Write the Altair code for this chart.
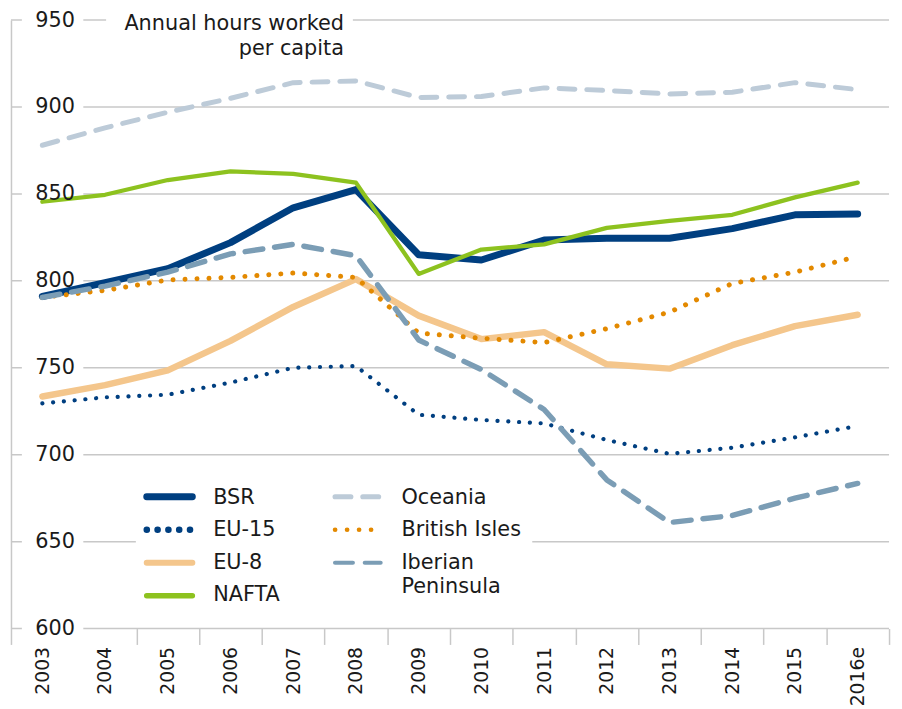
import altair as alt
import pandas as pd

# ---------------- data ----------------
years = ["2003", "2004", "2005", "2006", "2007", "2008", "2009", "2010",
         "2011", "2012", "2013", "2014", "2015", "2016e"]

series_names = ["BSR", "EU-15", "EU-8", "NAFTA", "Oceania", "British Isles", "Iberian Peninsula"]

bsr = [791, 799, 807, 822, 842, 852.5, 815, 812, 823.5, 824.5, 824.5, 830, 838, 838.5]
eu15 = [729.5, 733, 734.5, 741.5, 750, 751, 723, 720, 718, 708.5, 700.5, 704, 710, 716.5]
eu8 = [733.5, 740, 748.5, 765.5, 785, 801, 780, 766.5, 770.5, 752, 749.5, 763, 774, 780.5]
nafta = [845.5, 849.5, 858, 863, 861.5, 856.5, 804, 818, 821, 830.5, 834.5, 838, 848, 856.5]
oceania = [878, 888, 897, 905, 914, 915, 905.5, 906, 911, 909.5, 907.5, 908.5, 914, 910]
british = [790.5, 794.5, 800.5, 802, 804.5, 802, 770, 767, 764.5, 772.5, 782, 798.5, 805, 814]
iberian = [790.5, 797, 805, 815.5, 821, 814.5, 766, 749, 726, 685.5, 661, 665, 675, 683.5]

y_ticks = [600, 650, 700, 750, 800, 850, 900, 950]

legend_left = ["BSR", "EU-15", "EU-8", "NAFTA"]
legend_right = ["Oceania", "British Isles", "Iberian Peninsula"]

# ---------------- styles ----------------
values = {"BSR": bsr, "EU-15": eu15, "EU-8": eu8, "NAFTA": nafta,
          "Oceania": oceania, "British Isles": british, "Iberian Peninsula": iberian}
colors = {"BSR": "#003f80", "EU-15": "#003f80", "EU-8": "#f4c68c", "NAFTA": "#8dc21f",
          "Oceania": "#bdcbd8", "British Isles": "#e38900", "Iberian Peninsula": "#7b9db5"}
widths = {"BSR": 7, "EU-15": 4.2, "EU-8": 6.5, "NAFTA": 4.3,
          "Oceania": 5, "British Isles": 5, "Iberian Peninsula": 5.5}
dashes = {"BSR": [1, 0], "EU-15": [0.1, 10.8], "EU-8": [1, 0], "NAFTA": [1, 0],
          "Oceania": [16, 12], "British Isles": [0.1, 12], "Iberian Peninsula": [18, 12]}
draw_order = ["Oceania", "EU-8", "BSR", "NAFTA", "EU-15", "British Isles", "Iberian Peninsula"]

W, H = 886, 614
FONT = "DejaVu Sans"
TXT = "#1a1a1a"
GRID = "#c8c8c8"

long = pd.DataFrame([{"year": y, "series": s, "value": v}
                     for s in series_names for y, v in zip(years, values[s])])

yscale = alt.Scale(domain=[600, 950], nice=False, zero=False)
xscale = alt.Scale(domain=years, paddingInner=0, paddingOuter=0)

yaxis = alt.Axis(values=y_ticks, title=None, grid=False, ticks=False, domain=True,
                 domainColor=GRID, domainWidth=1.5, labelPadding=-64, labelAlign="right",
                 labelBaseline="middle", labelFont=FONT, labelFontSize=21, labelColor=TXT,
                 zindex=1)
xaxis = alt.Axis(title=None, grid=False, domain=False, tickBand="extent", tickSize=16,
                 tickColor=GRID, tickWidth=1.5, labelAngle=270, labelAlign="right",
                 labelBaseline="middle", labelPadding=2, labelFont=FONT, labelFontSize=19,
                 labelColor=TXT,
                 tickOpacity={"condition": {"test": "datum.value === '2003'", "value": 0}, "value": 1})

# gridlines
grid = alt.Chart(pd.DataFrame({"v": y_ticks})).mark_rule(color=GRID, strokeWidth=1.5).encode(
    y=alt.Y("v:Q", scale=yscale, axis=yaxis), x=alt.value(0), x2=alt.value(W))

blank = alt.Chart(alt.Data(values=[{}])).mark_rect(color="white")
label_mask = blank.encode(x=alt.value(11), x2=alt.value(73), y=alt.value(-4), y2=alt.value(H + 4))
title_mask = blank.encode(x=alt.value(96), x2=alt.value(345), y=alt.value(-4), y2=alt.value(4))
legend_mask = blank.encode(x=alt.value(126), x2=alt.value(526), y=alt.value(519), y2=alt.value(533))

lines = []
for s in draw_order:
    kw = dict(color=colors[s], strokeWidth=widths[s], strokeCap="round", strokeJoin="round")
    if dashes[s] != [1, 0]:
        kw["strokeDash"] = dashes[s]
    lines.append(
        alt.Chart(long).transform_filter(alt.datum.series == s).mark_line(**kw).encode(
            x=alt.X("year:N", sort=years, scale=xscale, axis=xaxis, bandPosition=0.5),
            y=alt.Y("value:Q", scale=yscale, axis=yaxis),
        )
    )

title_txt = alt.Chart(alt.Data(values=[{}])).mark_text(
    text="Annual hours worked|per capita", lineBreak="|", align="right", baseline="alphabetic",
    font=FONT, fontSize=21, color=TXT, lineHeight=25).encode(x=alt.value(336), y=alt.value(10))

leg_df = pd.DataFrame({
    "series": legend_left + legend_right,
    "col": [0] * len(legend_left) + [1] * len(legend_right),
    "row": list(range(len(legend_left))) + list(range(len(legend_right))),
})
leg_base = alt.Chart(leg_df).transform_calculate(
    sx="datum.col == 0 ? 137 : 327",
    sx2="datum.col == 0 ? 183 : 373",
    sy="481 + 33.3 * datum.row",
    tx="datum.col == 0 ? 204 : 394",
    ty="488 + 32.8 * datum.row",
    label="datum.series == 'Iberian Peninsula' ? 'Iberian|Peninsula' : datum.series",
)
leg_sym = leg_base.mark_rule(strokeCap="round").encode(
    x=alt.X("sx:Q", scale=None, axis=None),
    x2="sx2:Q",
    y=alt.Y("sy:Q", scale=None, axis=None),
    color=alt.Color("series:N", scale=alt.Scale(domain=series_names, range=[colors[s] for s in series_names]), legend=None),
    strokeWidth=alt.StrokeWidth("series:N", scale=alt.Scale(domain=series_names, range=[widths[s] for s in series_names]), legend=None),
    strokeDash=alt.StrokeDash("series:N", scale=alt.Scale(domain=series_names, range=[dashes[s] for s in series_names]), legend=None),
)
leg_txt = leg_base.mark_text(align="left", baseline="alphabetic", lineBreak="|", lineHeight=25,
                             font=FONT, fontSize=21, color=TXT).encode(
    x=alt.X("tx:Q", scale=None, axis=None),
    y=alt.Y("ty:Q", scale=None, axis=None),
    text="label:N",
)

chart = alt.layer(grid, label_mask, title_mask, legend_mask, *lines, title_txt, leg_sym, leg_txt).properties(
    width=W, height=H,
    padding={"left": 3, "top": 9, "right": 5, "bottom": 80},
    autosize=alt.AutoSizeParams(type="none"),
).configure(background="white").configure_view(stroke=None)

chart.save("out.html", embed_options={"renderer": "svg", "actions": False})
